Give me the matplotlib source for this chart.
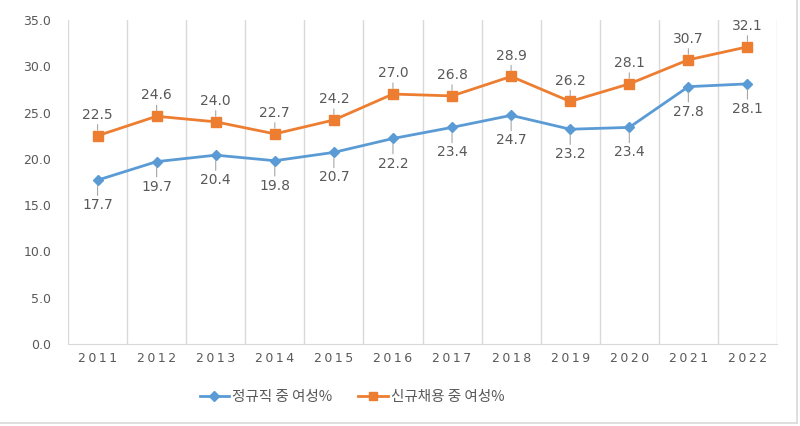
import matplotlib
matplotlib.use("Agg")
import matplotlib.pyplot as plt
from matplotlib.lines import Line2D

plt.rcParams['font.family'] = ['Noto Sans CJK KR', 'DejaVu Sans']

years = ['2011', '2012', '2013', '2014', '2015', '2016', '2017', '2018', '2019', '2020', '2021', '2022']
regular = [17.7, 19.7, 20.4, 19.8, 20.7, 22.2, 23.4, 24.7, 23.2, 23.4, 27.8, 28.1]
new_hire = [22.5, 24.6, 24.0, 22.7, 24.2, 27.0, 26.8, 28.9, 26.2, 28.1, 30.7, 32.1]
series_names = ['정규직 중 여성%', '신규채용 중 여성%']
yticks = [0, 5, 10, 15, 20, 25, 30, 35]

blue = '#5b9bd5'
orange = '#ed7d31'
txt = '#595959'
grid = '#d9d9d9'

fig = plt.figure(figsize=(8, 4.26), dpi=100)
ax = fig.add_axes([68/800, 1-344/426, (777-68)/800, (344-20)/426])

x = list(range(len(years)))
ax.plot(x, regular, color=blue, lw=2, marker='D', ms=5.5, zorder=3)
ax.plot(x, new_hire, color=orange, lw=2, marker='s', ms=7, zorder=3)

lead = dict(arrowstyle='-', color='#a6a6a6', lw=0.8, shrinkA=0, shrinkB=4)
for i in x:
    ax.annotate(f'{regular[i]:.1f}', (i, regular[i]), xytext=(0, -13), textcoords='offset points',
                ha='center', va='top', fontsize=10, color=txt, family='DejaVu Sans',
                arrowprops=lead, zorder=4)
    ax.annotate(f'{new_hire[i]:.1f}', (i, new_hire[i]), xytext=(0, 10), textcoords='offset points',
                ha='center', va='bottom', fontsize=10, color=txt, family='DejaVu Sans',
                arrowprops=lead, zorder=4)

ax.set_xlim(-0.5, len(years) - 0.5)
ax.set_ylim(0, 35)
ax.set_yticks(yticks)
ax.set_yticklabels([f'{v:.1f}' for v in yticks], fontsize=9, color=txt, family='DejaVu Sans')
ax.set_xticks(x)
ax.set_xticklabels(['\u2009'.join(y) for y in years], fontsize=9, color=txt, family='DejaVu Sans')
ax.set_xticks([i - 0.5 for i in range(len(years) + 1)], minor=True)
ax.grid(True, which='minor', axis='x', color=grid, lw=1)
ax.tick_params(axis='both', which='both', length=0)
ax.tick_params(axis='x', pad=6)
ax.tick_params(axis='y', pad=12)
for s in ['top', 'left', 'right']:
    ax.spines[s].set_visible(False)
ax.spines['bottom'].set_color(grid)

handles = [Line2D([], [], color=blue, lw=2, marker='D', ms=5),
           Line2D([], [], color=orange, lw=2, marker='s', ms=6)]
fig.legend(handles, series_names, loc='center', bbox_to_anchor=(352/800, 1-397/426), ncol=2,
           frameon=False, fontsize=10.5, labelcolor=txt, handlelength=2.0, handletextpad=0.2,
           columnspacing=1.8)

fig.add_artist(Line2D([797/800, 797/800], [1-423/426, 1], color=grid, lw=1.2, transform=fig.transFigure))
fig.add_artist(Line2D([0, 797/800], [1-423/426, 1-423/426], color=grid, lw=1.2, transform=fig.transFigure))

fig.savefig('out.png', dpi=100)
